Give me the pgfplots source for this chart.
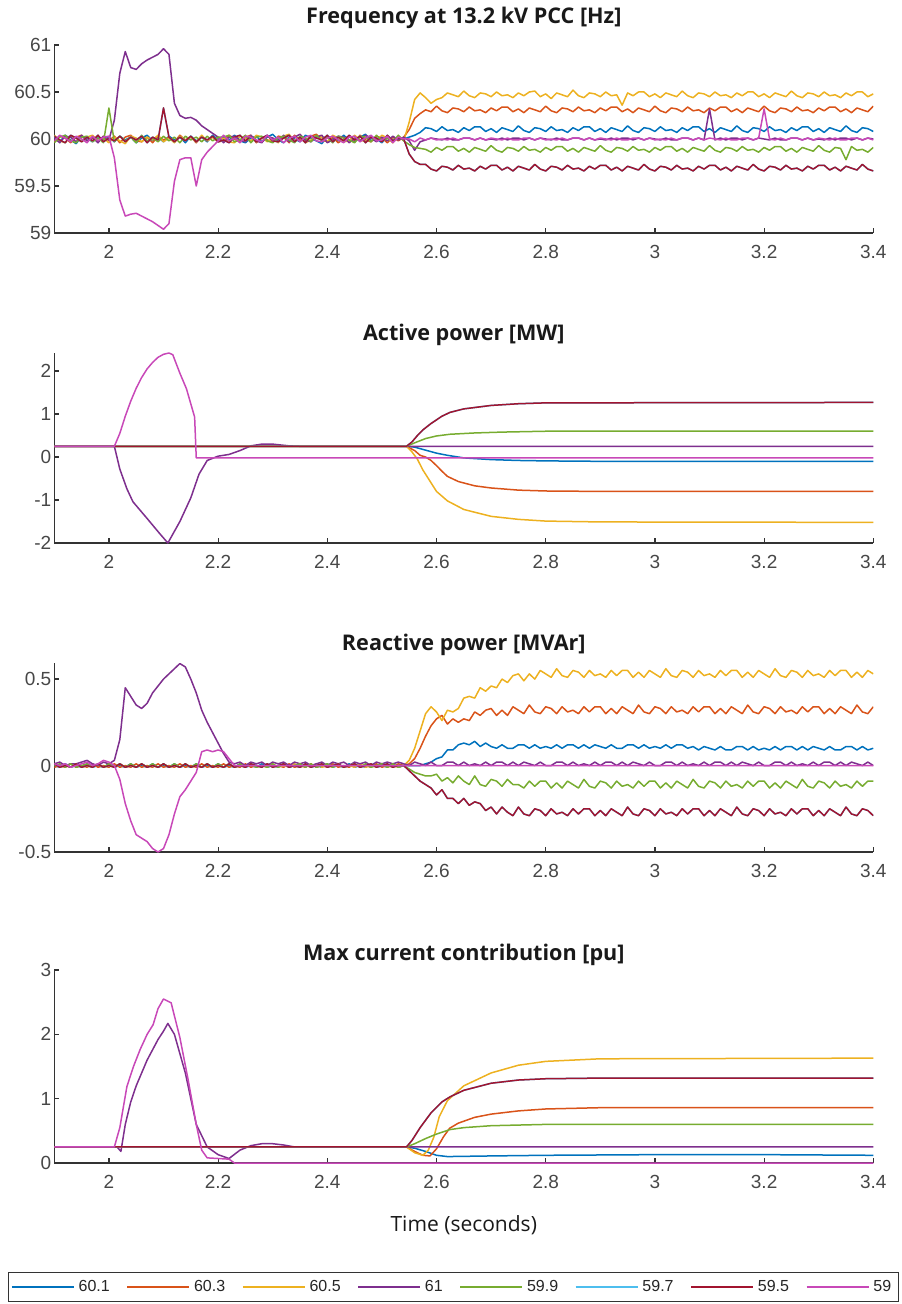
\documentclass[border=0pt]{standalone}
\usepackage{pgfplots}
\pgfplotsset{compat=1.18}
\usepackage{pgfplotstable}
\usepackage{fontspec}
\setmainfont{Liberation Sans}
\newfontfamily\titlefont{Open Sans}

\definecolor{c1}{rgb}{0,0.447,0.741}
\definecolor{c2}{rgb}{0.85,0.325,0.098}
\definecolor{c3}{rgb}{0.929,0.694,0.125}
\definecolor{c4}{rgb}{0.494,0.184,0.556}
\definecolor{c5}{rgb}{0.466,0.674,0.188}
\definecolor{c6}{rgb}{0.301,0.745,0.933}
\definecolor{c7}{rgb}{0.635,0.078,0.184}
\definecolor{c8}{HTML}{C848B8}

% Frequency [Hz]: t, 60.1, 60.3, 60.5, 61, 59.9, 59.5, 59
\pgfplotstableread[row sep=\\]{
t B O Y P G R M\\
1.90 60.02 59.97 60.04 60.01 59.96 60.03 59.98\\
1.91 59.97 60.03 59.98 59.96 60.02 59.99 60.04\\
1.92 60.04 60.01 59.96 60.03 60.04 59.96 60.01\\
1.93 59.99 59.96 60.03 60.02 59.98 60.04 59.97\\
1.94 59.95 60.02 60.01 59.97 59.96 60.01 60.03\\
1.95 60.03 60.04 59.97 60.04 60.02 59.97 60.00\\
1.96 60.01 59.98 60.02 59.98 60.03 60.02 59.96\\
1.97 59.97 60.01 60.04 60.02 59.97 59.98 60.03\\
1.98 60.03 59.97 59.98 59.96 60.01 60.04 59.98\\
1.99 59.98 60.03 60.01 60.03 59.96 59.97 60.02\\
2.00 60.02 59.98 59.96 59.99 60.33 60.01 60.03\\
2.01 59.97 60.03 60.02 60.20 59.97 59.98 59.80\\
2.02 60.03 59.96 59.98 60.70 60.03 60.03 59.35\\
2.03 59.99 60.02 59.95 60.93 59.98 59.97 59.18\\
2.04 60.02 60.04 60.03 60.76 60.02 60.02 59.20\\
2.05 59.96 59.98 60.01 60.74 59.96 59.99 59.21\\
2.06 60.01 59.97 59.97 60.80 60.04 60.03 59.18\\
2.07 60.04 60.02 60.02 60.84 59.98 59.96 59.15\\
2.08 59.98 59.96 59.99 60.87 60.01 60.02 59.12\\
2.09 60.02 60.03 60.04 60.90 59.97 59.99 59.08\\
2.10 59.97 59.99 59.97 60.96 60.03 60.33 59.04\\
2.11 60.03 60.02 60.01 60.90 59.98 60.02 59.10\\
2.12 59.99 59.97 59.96 60.38 60.02 59.97 59.55\\
2.13 60.02 60.04 60.03 60.25 59.96 60.02 59.78\\
2.14 59.96 59.99 59.99 60.22 60.03 59.98 59.80\\
2.15 60.03 60.02 60.02 60.23 59.99 60.03 59.80\\
2.16 59.98 59.96 59.97 60.20 60.02 59.97 59.50\\
2.17 60.02 60.03 60.04 60.14 59.97 60.02 59.78\\
2.18 59.97 59.98 59.98 60.10 60.03 59.99 59.86\\
2.19 60.04 60.02 60.02 60.06 59.98 60.03 59.92\\
2.20 59.99 59.97 59.98 60.02 60.02 59.97 59.98\\
2.21 60.03 59.98 60.01 59.96 60.02 59.99 60.04\\
2.22 59.99 60.04 59.97 60.02 60.04 59.96 59.98\\
2.23 60.04 60.00 59.96 60.03 59.97 60.02 60.01\\
2.24 59.98 59.97 60.03 59.99 59.99 60.04 59.96\\
2.25 59.96 60.02 60.01 59.97 60.04 59.98 60.03\\
2.26 60.01 60.04 59.98 60.04 59.96 60.03 60.02\\
2.27 60.03 59.96 60.04 59.98 60.02 59.97 59.99\\
2.28 59.97 60.01 60.02 59.96 60.03 60.01 59.97\\
2.29 60.02 59.99 59.97 60.03 59.98 60.04 60.04\\
2.30 60.05 59.97 60.01 60.01 59.96 59.98 59.99\\
2.31 59.99 60.03 59.96 59.98 60.01 59.97 60.02\\
2.32 59.96 60.02 60.03 60.04 60.03 60.01 59.96\\
2.33 60.02 59.96 60.05 59.97 59.99 60.04 60.01\\
2.34 60.00 60.04 59.98 60.02 59.96 59.97 60.03\\
2.35 59.97 59.99 60.02 60.05 60.03 60.02 59.97\\
2.36 60.04 59.98 59.96 59.99 60.01 59.96 60.02\\
2.37 60.01 60.03 59.99 59.97 59.97 60.03 60.04\\
2.38 59.98 60.05 60.03 60.02 60.04 60.01 59.98\\
2.39 59.95 59.99 60.02 60.04 59.98 59.99 59.97\\
2.40 60.03 59.97 59.97 59.96 60.02 60.04 60.01\\
2.41 60.01 60.02 60.04 59.99 59.96 59.97 60.03\\
2.42 59.98 59.96 60.01 60.03 60.03 60.02 59.99\\
2.43 60.04 60.00 59.97 60.02 60.01 59.98 59.96\\
2.44 59.99 60.03 59.98 59.96 59.99 60.04 60.02\\
2.45 59.97 59.98 60.04 60.01 59.96 59.99 60.03\\
2.46 60.02 60.04 59.99 59.98 60.03 60.03 59.97\\
2.47 60.05 59.99 59.97 60.04 60.02 59.96 60.01\\
2.48 59.98 59.97 60.03 60.01 59.97 60.02 60.04\\
2.49 60.00 60.03 59.98 59.97 60.04 60.01 59.98\\
2.50 59.96 60.01 60.04 60.02 59.98 59.97 59.99\\
2.51 60.03 59.96 60.01 59.98 60.01 60.04 60.03\\
2.52 59.99 60.02 59.96 60.03 59.97 59.98 59.96\\
2.53 60.02 59.98 60.03 59.99 60.04 60.01 60.02\\
2.54 60.00 60.02 59.98 60.02 59.98 60.00 60.00\\
2.55 60.02 60.10 60.18 59.98 59.94 59.84 60.00\\
2.56 60.04 60.22 60.42 59.88 59.91 59.76 59.97\\
2.57 60.07 60.27 60.49 59.97 59.90 59.73 60.01\\
2.58 60.12 60.31 60.44 59.99 59.89 59.73 59.99\\
2.59 60.11 60.29 60.38 60.01 59.86 59.68 60.01\\
2.60 60.08 60.35 60.42 60.00 59.91 59.66 59.99\\
2.61 60.13 60.30 60.44 59.99 59.88 59.71 60.00\\
2.62 60.09 60.28 60.49 60.01 59.92 59.70 59.99\\
2.63 60.10 60.33 60.47 59.99 59.92 59.67 60.01\\
2.64 60.07 60.32 60.45 59.99 59.87 59.72 59.99\\
2.65 60.12 60.29 60.51 60.01 59.90 59.68 60.01\\
2.66 60.09 60.34 60.46 60.01 59.86 59.69 60.01\\
2.67 60.13 60.30 60.44 59.99 59.91 59.66 59.99\\
2.68 60.13 60.31 60.49 60.01 59.89 59.71 60.01\\
2.69 60.08 60.28 60.48 59.99 59.87 59.68 59.99\\
2.70 60.11 60.33 60.45 60.00 59.93 59.72 60.01\\
2.71 60.07 60.30 60.50 59.99 59.88 59.72 60.00\\
2.72 60.12 60.34 60.46 60.01 59.86 59.67 59.99\\
2.73 60.10 60.34 60.47 59.99 59.91 59.70 60.01\\
2.74 60.08 60.29 60.44 60.01 59.90 59.66 59.99\\
2.75 60.14 60.32 60.49 60.01 59.87 59.71 59.99\\
2.76 60.09 60.28 60.46 59.99 59.92 59.69 60.01\\
2.77 60.07 60.33 60.50 60.01 59.88 59.67 60.01\\
2.78 60.12 60.31 60.51 59.99 59.89 59.73 59.99\\
2.79 60.11 60.29 60.45 60.01 59.86 59.68 60.01\\
2.80 60.08 60.35 60.48 60.00 59.91 59.66 59.99\\
2.81 60.13 60.30 60.43 59.99 59.88 59.71 60.00\\
2.82 60.09 60.28 60.49 60.01 59.92 59.70 59.99\\
2.83 60.10 60.33 60.47 59.99 59.92 59.67 60.01\\
2.84 60.07 60.32 60.45 59.99 59.87 59.72 59.99\\
2.85 60.12 60.29 60.52 60.01 59.90 59.68 60.01\\
2.86 60.09 60.34 60.46 60.01 59.86 59.69 60.01\\
2.87 60.13 60.30 60.44 59.99 59.91 59.66 59.99\\
2.88 60.13 60.31 60.49 60.01 59.89 59.71 60.01\\
2.89 60.08 60.28 60.48 59.99 59.87 59.68 59.99\\
2.90 60.11 60.33 60.45 60.00 59.93 59.72 60.01\\
2.91 60.07 60.30 60.50 59.99 59.88 59.72 60.00\\
2.92 60.12 60.34 60.46 60.01 59.86 59.67 59.99\\
2.93 60.10 60.34 60.47 59.99 59.91 59.70 60.01\\
2.94 60.08 60.29 60.36 60.01 59.90 59.66 59.99\\
2.95 60.14 60.32 60.49 60.01 59.87 59.71 59.99\\
2.96 60.09 60.28 60.46 59.99 59.92 59.69 60.01\\
2.97 60.07 60.33 60.50 60.01 59.88 59.67 60.01\\
2.98 60.12 60.31 60.50 59.99 59.89 59.73 59.99\\
2.99 60.11 60.29 60.45 60.01 59.86 59.68 60.01\\
3.00 60.08 60.35 60.48 60.00 59.91 59.66 59.99\\
3.01 60.13 60.30 60.44 59.99 59.88 59.71 60.00\\
3.02 60.09 60.28 60.49 60.01 59.92 59.70 59.99\\
3.03 60.10 60.33 60.47 59.99 59.92 59.67 60.01\\
3.04 60.07 60.32 60.45 59.99 59.87 59.72 59.99\\
3.05 60.12 60.29 60.51 60.01 59.90 59.68 60.01\\
3.06 60.09 60.34 60.46 60.01 59.86 59.69 60.01\\
3.07 60.13 60.30 60.44 59.99 59.91 59.66 59.99\\
3.08 60.13 60.31 60.49 60.01 59.89 59.71 60.01\\
3.09 60.08 60.28 60.48 59.99 59.87 59.68 59.99\\
3.10 60.11 60.33 60.45 60.32 59.93 59.72 60.01\\
3.11 60.07 60.30 60.50 59.99 59.88 59.72 60.00\\
3.12 60.12 60.34 60.46 60.01 59.86 59.67 59.99\\
3.13 60.10 60.34 60.47 59.99 59.91 59.70 60.01\\
3.14 60.08 60.29 60.44 60.01 59.90 59.66 59.99\\
3.15 60.14 60.32 60.49 60.01 59.87 59.71 59.99\\
3.16 60.09 60.28 60.46 59.99 59.92 59.69 60.01\\
3.17 60.07 60.33 60.50 60.01 59.88 59.67 60.01\\
3.18 60.12 60.31 60.50 59.99 59.89 59.73 59.99\\
3.19 60.11 60.29 60.45 60.01 59.86 59.68 60.01\\
3.20 60.08 60.35 60.48 60.00 59.91 59.66 60.32\\
3.21 60.13 60.30 60.44 59.99 59.88 59.71 60.00\\
3.22 60.09 60.28 60.49 60.01 59.92 59.70 59.99\\
3.23 60.10 60.33 60.47 59.99 59.92 59.67 60.01\\
3.24 60.07 60.32 60.45 59.99 59.87 59.72 59.99\\
3.25 60.12 60.29 60.51 60.01 59.90 59.68 60.01\\
3.26 60.09 60.34 60.46 60.01 59.86 59.69 60.01\\
3.27 60.13 60.30 60.44 59.99 59.91 59.66 59.99\\
3.28 60.13 60.31 60.49 60.01 59.89 59.71 60.01\\
3.29 60.08 60.28 60.48 59.99 59.87 59.68 59.99\\
3.30 60.11 60.33 60.45 60.00 59.93 59.72 60.01\\
3.31 60.07 60.30 60.50 59.99 59.88 59.72 60.00\\
3.32 60.12 60.34 60.46 60.01 59.86 59.67 59.99\\
3.33 60.10 60.34 60.47 59.99 59.91 59.70 60.01\\
3.34 60.08 60.29 60.44 60.01 59.90 59.66 59.99\\
3.35 60.14 60.32 60.49 60.01 59.78 59.71 59.99\\
3.36 60.09 60.28 60.46 59.99 59.92 59.69 60.01\\
3.37 60.07 60.33 60.50 60.01 59.88 59.67 60.01\\
3.38 60.12 60.31 60.50 59.99 59.89 59.73 59.99\\
3.39 60.11 60.29 60.45 60.01 59.86 59.68 60.01\\
3.40 60.08 60.35 60.48 60.00 59.91 59.66 59.99\\
}\freq

% Reactive power [MVAr]
\pgfplotstableread[row sep=\\]{
t B O Y P G R M\\
1.90 0.00 -0.01 0.01 0.01 0.00 0.01 0.01\\
1.91 -0.01 0.00 -0.01 0.02 0.01 -0.01 0.00\\
1.92 0.01 -0.01 0.00 0.00 -0.01 0.00 0.01\\
1.93 -0.01 0.01 -0.01 0.01 0.01 -0.01 -0.01\\
1.94 0.00 -0.01 0.01 0.01 -0.01 0.01 0.00\\
1.95 -0.01 0.00 -0.01 0.02 0.00 -0.01 0.01\\
1.96 0.01 -0.01 0.00 0.03 0.01 0.00 0.02\\
1.97 -0.01 0.01 -0.01 0.01 -0.01 -0.01 0.00\\
1.98 0.00 -0.01 0.01 0.00 0.01 0.01 0.01\\
1.99 -0.01 0.00 -0.01 0.02 -0.01 -0.01 0.03\\
2.00 0.01 -0.01 0.00 0.01 0.01 0.00 0.02\\
2.01 -0.01 0.01 -0.01 0.03 -0.01 -0.01 0.00\\
2.02 0.00 -0.01 0.01 0.15 0.01 0.01 -0.08\\
2.03 -0.01 0.00 -0.01 0.45 -0.01 -0.01 -0.22\\
2.04 0.01 -0.01 0.00 0.40 0.01 0.00 -0.32\\
2.05 -0.01 0.01 -0.01 0.35 -0.01 -0.01 -0.40\\
2.06 0.00 -0.01 0.01 0.33 0.01 0.01 -0.42\\
2.07 -0.01 0.00 -0.01 0.36 -0.01 -0.01 -0.44\\
2.08 0.01 -0.01 0.00 0.42 0.01 0.00 -0.48\\
2.09 -0.01 0.01 -0.01 0.46 -0.01 -0.01 -0.50\\
2.10 0.00 -0.01 0.01 0.50 0.01 0.01 -0.48\\
2.11 -0.01 0.00 -0.01 0.53 -0.01 -0.01 -0.40\\
2.12 0.01 -0.01 0.00 0.56 0.01 0.00 -0.28\\
2.13 -0.01 0.01 -0.01 0.59 -0.01 -0.01 -0.18\\
2.14 0.00 -0.01 0.01 0.57 0.01 0.01 -0.14\\
2.15 -0.01 0.00 -0.01 0.50 -0.01 -0.01 -0.09\\
2.16 0.01 -0.01 0.00 0.42 0.01 0.00 -0.04\\
2.17 -0.01 0.01 -0.01 0.32 -0.01 -0.01 0.08\\
2.18 0.00 -0.01 0.01 0.25 0.01 0.01 0.09\\
2.19 -0.01 0.00 -0.01 0.19 -0.01 -0.01 0.08\\
2.20 0.01 -0.01 0.00 0.13 0.01 0.00 0.09\\
2.21 -0.01 0.01 -0.01 0.07 -0.01 -0.01 0.08\\
2.22 0.00 -0.01 0.01 0.02 0.01 0.01 0.04\\
2.23 -0.01 0.00 -0.01 0.01 -0.01 -0.01 0.00\\
2.24 0.01 -0.01 0.00 0.02 0.01 0.00 0.00\\
2.25 -0.01 0.01 -0.01 0.00 -0.01 -0.01 0.00\\
2.26 0.00 -0.01 0.01 0.02 0.01 0.01 0.00\\
2.27 -0.01 0.00 -0.01 0.01 -0.01 0.00 0.00\\
2.28 0.01 -0.01 0.00 0.02 0.00 -0.01 0.00\\
2.29 -0.01 0.01 -0.01 0.00 -0.01 0.01 0.00\\
2.30 0.00 -0.01 0.01 0.02 0.01 -0.01 0.00\\
2.31 -0.01 0.00 -0.01 0.01 -0.01 0.00 0.00\\
2.32 0.01 -0.01 0.00 0.02 0.01 0.01 0.00\\
2.33 -0.01 0.01 -0.01 0.00 -0.01 -0.01 0.00\\
2.34 0.00 -0.01 0.01 0.02 0.00 0.00 0.00\\
2.35 -0.01 0.00 -0.01 0.01 0.01 -0.01 0.00\\
2.36 0.01 -0.01 0.00 0.02 -0.01 0.01 0.00\\
2.37 -0.01 0.01 -0.01 0.00 0.01 -0.01 0.00\\
2.38 0.00 -0.01 0.01 0.01 -0.01 0.00 0.00\\
2.39 -0.01 0.00 -0.01 0.02 0.00 0.01 0.00\\
2.40 0.01 -0.01 0.00 0.00 0.01 -0.01 0.00\\
2.41 -0.01 0.01 -0.01 0.02 -0.01 0.00 0.00\\
2.42 0.00 -0.01 0.01 0.01 0.01 0.01 0.00\\
2.43 -0.01 0.00 -0.01 0.02 -0.01 -0.01 0.00\\
2.44 0.01 -0.01 0.00 0.00 0.00 0.00 0.00\\
2.45 -0.01 0.01 -0.01 0.02 0.01 0.01 0.00\\
2.46 0.00 -0.01 0.01 0.01 -0.01 -0.01 0.00\\
2.47 -0.01 0.00 -0.01 0.02 0.01 0.00 0.00\\
2.48 0.01 -0.01 0.00 0.00 -0.01 0.01 0.00\\
2.49 -0.01 0.01 -0.01 0.02 0.00 -0.01 0.00\\
2.50 0.00 -0.01 0.01 0.01 0.01 0.00 0.00\\
2.51 -0.01 0.00 -0.01 0.02 -0.01 0.01 0.00\\
2.52 0.01 -0.01 0.00 0.01 0.01 -0.01 0.00\\
2.53 -0.01 0.01 -0.01 0.02 -0.01 0.00 0.00\\
2.54 0.00 0.00 0.00 0.01 0.00 0.00 0.00\\
2.55 0.00 0.01 0.03 0.00 -0.02 -0.03 0.00\\
2.56 0.00 0.04 0.10 0.02 -0.04 -0.06 0.00\\
2.57 0.00 0.10 0.20 0.01 -0.05 -0.09 0.00\\
2.58 0.01 0.17 0.30 0.00 -0.06 -0.11 0.00\\
2.59 0.02 0.23 0.34 0.02 -0.06 -0.13 0.00\\
2.60 0.04 0.27 0.31 0.00 -0.05 -0.17 0.00\\
2.61 0.05 0.29 0.26 0.00 -0.09 -0.14 0.00\\
2.62 0.09 0.24 0.32 0.02 -0.07 -0.19 0.00\\
2.63 0.09 0.27 0.31 0.02 -0.10 -0.19 0.00\\
2.64 0.12 0.25 0.33 0.00 -0.06 -0.22 0.00\\
2.65 0.13 0.27 0.39 0.02 -0.09 -0.19 0.00\\
2.66 0.12 0.26 0.40 0.00 -0.11 -0.23 0.00\\
2.67 0.14 0.31 0.39 0.01 -0.06 -0.21 0.00\\
2.68 0.11 0.29 0.45 0.00 -0.11 -0.22 0.00\\
2.69 0.13 0.32 0.43 0.02 -0.12 -0.26 0.00\\
2.70 0.11 0.33 0.46 0.00 -0.08 -0.24 0.00\\
2.71 0.10 0.29 0.45 0.02 -0.09 -0.28 0.00\\
2.72 0.12 0.32 0.50 0.02 -0.12 -0.24 0.00\\
2.73 0.10 0.29 0.48 0.00 -0.08 -0.27 0.00\\
2.74 0.10 0.34 0.52 0.02 -0.11 -0.29 0.00\\
2.75 0.12 0.32 0.53 0.00 -0.11 -0.24 0.00\\
2.76 0.12 0.30 0.49 0.02 -0.13 -0.28 0.00\\
2.77 0.10 0.35 0.53 0.01 -0.09 -0.29 0.00\\
2.78 0.12 0.31 0.50 0.00 -0.12 -0.25 0.00\\
2.79 0.10 0.30 0.55 0.02 -0.09 -0.26 0.00\\
2.80 0.11 0.34 0.53 0.00 -0.09 -0.29 0.00\\
2.81 0.10 0.33 0.51 0.00 -0.13 -0.25 0.00\\
2.82 0.12 0.30 0.56 0.02 -0.10 -0.28 0.00\\
2.83 0.10 0.34 0.52 0.02 -0.13 -0.27 0.00\\
2.84 0.12 0.31 0.51 0.00 -0.09 -0.29 0.00\\
2.85 0.12 0.32 0.55 0.02 -0.11 -0.25 0.00\\
2.86 0.10 0.30 0.54 0.00 -0.13 -0.28 0.00\\
2.87 0.12 0.34 0.51 0.01 -0.08 -0.25 0.00\\
2.88 0.10 0.31 0.55 0.00 -0.12 -0.25 0.00\\
2.89 0.12 0.34 0.52 0.02 -0.13 -0.29 0.00\\
2.90 0.11 0.34 0.53 0.00 -0.09 -0.26 0.00\\
2.91 0.10 0.30 0.51 0.02 -0.10 -0.29 0.00\\
2.92 0.12 0.33 0.55 0.02 -0.13 -0.25 0.00\\
2.93 0.10 0.30 0.52 0.00 -0.09 -0.27 0.00\\
2.94 0.10 0.34 0.55 0.02 -0.12 -0.29 0.00\\
2.95 0.12 0.32 0.55 0.00 -0.11 -0.24 0.00\\
2.96 0.12 0.30 0.51 0.02 -0.13 -0.28 0.00\\
2.97 0.10 0.35 0.54 0.01 -0.09 -0.29 0.00\\
2.98 0.12 0.31 0.51 0.00 -0.12 -0.25 0.00\\
2.99 0.10 0.30 0.55 0.02 -0.09 -0.26 0.00\\
3.00 0.11 0.34 0.53 0.00 -0.09 -0.29 0.00\\
3.01 0.10 0.33 0.51 0.00 -0.13 -0.25 0.00\\
3.02 0.12 0.30 0.56 0.02 -0.10 -0.28 0.00\\
3.03 0.10 0.34 0.52 0.02 -0.13 -0.27 0.00\\
3.04 0.12 0.31 0.51 0.00 -0.09 -0.29 0.00\\
3.05 0.12 0.32 0.55 0.02 -0.11 -0.25 0.00\\
3.06 0.10 0.30 0.54 0.00 -0.13 -0.28 0.00\\
3.07 0.11 0.34 0.51 0.01 -0.08 -0.25 0.00\\
3.08 0.09 0.31 0.55 0.00 -0.12 -0.25 0.00\\
3.09 0.11 0.34 0.52 0.02 -0.13 -0.29 0.00\\
3.10 0.10 0.34 0.53 0.00 -0.09 -0.26 0.00\\
3.11 0.09 0.30 0.51 0.02 -0.10 -0.29 0.00\\
3.12 0.11 0.33 0.55 0.02 -0.13 -0.25 0.00\\
3.13 0.09 0.30 0.52 0.00 -0.09 -0.27 0.00\\
3.14 0.09 0.34 0.55 0.02 -0.12 -0.29 0.00\\
3.15 0.11 0.32 0.55 0.00 -0.11 -0.24 0.00\\
3.16 0.11 0.30 0.51 0.02 -0.13 -0.28 0.00\\
3.17 0.09 0.35 0.54 0.01 -0.09 -0.29 0.00\\
3.18 0.11 0.31 0.51 0.00 -0.12 -0.25 0.00\\
3.19 0.09 0.30 0.55 0.02 -0.09 -0.26 0.00\\
3.20 0.10 0.34 0.53 0.00 -0.09 -0.29 0.00\\
3.21 0.09 0.33 0.51 0.00 -0.13 -0.25 0.00\\
3.22 0.11 0.30 0.56 0.02 -0.10 -0.28 0.00\\
3.23 0.09 0.34 0.52 0.02 -0.13 -0.27 0.00\\
3.24 0.11 0.31 0.51 0.00 -0.09 -0.29 0.00\\
3.25 0.11 0.32 0.55 0.02 -0.11 -0.25 0.00\\
3.26 0.09 0.30 0.54 0.00 -0.13 -0.28 0.00\\
3.27 0.11 0.34 0.51 0.01 -0.08 -0.25 0.00\\
3.28 0.09 0.31 0.55 0.00 -0.12 -0.25 0.00\\
3.29 0.11 0.34 0.52 0.02 -0.13 -0.29 0.00\\
3.30 0.10 0.34 0.53 0.00 -0.09 -0.26 0.00\\
3.31 0.09 0.30 0.51 0.02 -0.10 -0.29 0.00\\
3.32 0.11 0.33 0.55 0.02 -0.13 -0.25 0.00\\
3.33 0.09 0.30 0.52 0.00 -0.09 -0.27 0.00\\
3.34 0.09 0.34 0.55 0.02 -0.12 -0.29 0.00\\
3.35 0.11 0.32 0.55 0.00 -0.11 -0.24 0.00\\
3.36 0.11 0.30 0.51 0.02 -0.13 -0.28 0.00\\
3.37 0.09 0.35 0.54 0.01 -0.09 -0.29 0.00\\
3.38 0.11 0.31 0.51 0.00 -0.12 -0.25 0.00\\
3.39 0.09 0.30 0.55 0.02 -0.09 -0.26 0.00\\
3.40 0.10 0.34 0.53 0.00 -0.09 -0.29 0.00\\
}\reac

\pgfplotsset{
  every axis title/.style={at={(0.5,1)},anchor=center,
    font=\titlefont\bfseries\fontsize{10.8}{12}\selectfont, text=black!90},
  every axis x label/.style={at={(0.5,0)},anchor=center},
  base/.style={
    scale only axis, width=409.5pt,
    xmin=1.9, xmax=3.4,
    axis x line*=bottom, axis y line*=left,
    axis line style={-, black!80, line width=0.6pt},
    tick align=inside, major tick length=2.5pt,
    tick style={black!80, line width=0.6pt},
    xtick={2,2.2,2.4,2.6,2.8,3,3.2,3.4},
    xticklabels={2,2.2,2.4,2.6,2.8,3,3.2,3.4},
    ticklabel style={font=\fontsize{9.5}{11}\selectfont, text=black!72},
    xticklabel style={yshift=-2.5pt},
    yticklabel style={xshift=2pt},
    every axis plot/.append style={line width=0.75pt, line join=round},
  },
}

\begin{document}
\begin{tikzpicture}
\path[use as bounding box] (0pt,0pt) rectangle (450.5pt,-652pt);

% ---------- Frequency ----------
\begin{axis}[base, at={(27.15pt,-22.5pt)}, anchor=north west, height=94pt,
  ymin=59, ymax=61, ytick={59,59.5,60,60.5,61}, yticklabels={59,59.5,60,60.5,61},
  title={Frequency at 13.2 kV PCC [Hz]}, title style={yshift=13.5pt}]
\addplot[c1] table[x=t,y=B] {\freq};
\addplot[c2] table[x=t,y=O] {\freq};
\addplot[c3] table[x=t,y=Y] {\freq};
\addplot[c4] table[x=t,y=P] {\freq};
\addplot[c5] table[x=t,y=G] {\freq};
\addplot[c6] table[x=t,y=R] {\freq};
\addplot[c7] table[x=t,y=R] {\freq};
\addplot[c8] table[x=t,y=M] {\freq};
\end{axis}

% ---------- Active power ----------
\begin{axis}[base, at={(27.15pt,-176.5pt)}, anchor=north west, height=95pt,
  ymin=-2, ymax=2.42, ytick={-2,-1,0,1,2}, yticklabels={-2,-1,0,1,2},
  title={Active power [MW]}, title style={yshift=9pt}]
\addplot[c1] coordinates {(1.9,0.25)(2.545,0.25)(2.56,0.23)(2.58,0.16)(2.6,0.09)(2.62,0.04)(2.65,-0.02)(2.7,-0.06)(2.75,-0.08)(2.8,-0.09)(2.9,-0.1)(3.4,-0.1)};
\addplot[c2] coordinates {(1.9,0.25)(2.545,0.25)(2.56,0.15)(2.57,0.04)(2.58,0.0)(2.59,-0.08)(2.6,-0.2)(2.61,-0.33)(2.62,-0.45)(2.64,-0.57)(2.67,-0.67)(2.7,-0.72)(2.75,-0.77)(2.8,-0.79)(2.9,-0.8)(3.4,-0.8)};
\addplot[c3] coordinates {(1.9,0.25)(2.545,0.25)(2.555,0.12)(2.565,-0.05)(2.575,-0.3)(2.59,-0.6)(2.6,-0.8)(2.62,-1.02)(2.65,-1.22)(2.7,-1.38)(2.75,-1.45)(2.8,-1.49)(2.9,-1.51)(3.4,-1.52)};
\addplot[c4] coordinates {(1.9,0.25)(2.01,0.25)(2.02,-0.28)(2.033,-0.74)(2.044,-1.04)(2.07,-1.43)(2.093,-1.78)(2.108,-2.0)(2.13,-1.5)(2.15,-0.95)(2.165,-0.4)(2.18,-0.08)(2.2,0.02)(2.22,0.06)(2.24,0.15)(2.26,0.26)(2.28,0.3)(2.3,0.3)(2.33,0.26)(2.35,0.25)(3.4,0.25)};
\addplot[c5] coordinates {(1.9,0.25)(2.545,0.25)(2.56,0.33)(2.58,0.43)(2.6,0.49)(2.625,0.53)(2.67,0.56)(2.72,0.58)(2.8,0.6)(3.4,0.6)};
\addplot[c6] coordinates {(1.9,0.25)(2.545,0.25)(2.555,0.35)(2.565,0.5)(2.575,0.63)(2.59,0.78)(2.61,0.95)(2.625,1.04)(2.65,1.12)(2.7,1.2)(2.75,1.24)(2.8,1.26)(3.4,1.27)};
\addplot[c7] coordinates {(1.9,0.25)(2.545,0.25)(2.555,0.35)(2.565,0.5)(2.575,0.63)(2.59,0.78)(2.61,0.95)(2.625,1.04)(2.65,1.12)(2.7,1.2)(2.75,1.24)(2.8,1.26)(3.4,1.27)};
\addplot[c8] coordinates {(1.9,0.25)(2.01,0.25)(2.02,0.55)(2.03,0.95)(2.04,1.3)(2.05,1.6)(2.06,1.85)(2.07,2.05)(2.08,2.2)(2.09,2.32)(2.1,2.39)(2.11,2.42)(2.117,2.38)(2.13,1.95)(2.142,1.59)(2.157,0.93)(2.16,-0.02)(3.4,-0.02)};
\end{axis}

% ---------- Reactive power ----------
\begin{axis}[base, at={(27.15pt,-331.5pt)}, anchor=north west, height=94.5pt,
  ymin=-0.5, ymax=0.593, ytick={-0.5,0,0.5}, yticklabels={-0.5,0,0.5},
  title={Reactive power [MVAr]}, title style={yshift=9pt}]
\addplot[c1] table[x=t,y=B] {\reac};
\addplot[c2] table[x=t,y=O] {\reac};
\addplot[c3] table[x=t,y=Y] {\reac};
\addplot[c4] table[x=t,y=P] {\reac};
\addplot[c5] table[x=t,y=G] {\reac};
\addplot[c6] table[x=t,y=R] {\reac};
\addplot[c7] table[x=t,y=R] {\reac};
\addplot[c8] table[x=t,y=M] {\reac};
\end{axis}

% ---------- Max current ----------
\begin{axis}[base, at={(27.15pt,-485pt)}, anchor=north west, height=96.5pt,
  ymin=0, ymax=3, ytick={0,1,2,3}, yticklabels={0,1,2,3},
  title={Max current contribution [pu]}, title style={yshift=7.5pt},
  xlabel={Time (seconds)},
  xlabel style={yshift=-31pt, font=\titlefont\fontsize{10.5}{12}\selectfont, text=black!90},
  legend columns=8,
  legend style={at={(0.487,-0.642)}, anchor=center, draw=black!80, line width=0.5pt,
    font=\fontsize{8}{9.5}\selectfont, text=black!85, inner sep=1.5pt,
    /tikz/every even column/.append style={column sep=6.4pt}},
  legend image code/.code={\draw[#1, line width=0.75pt] (0pt,0pt) -- (31pt,0pt);},
  legend entries={60.1,60.3,60.5,61,59.9,59.7,59.5,59}]
\addplot[c1] coordinates {(1.9,0.25)(2.545,0.25)(2.56,0.23)(2.58,0.18)(2.6,0.12)(2.62,0.1)(2.7,0.11)(2.8,0.12)(3.0,0.13)(3.2,0.13)(3.4,0.12)};
\addplot[c2] coordinates {(1.9,0.25)(2.545,0.25)(2.56,0.18)(2.575,0.12)(2.588,0.11)(2.6,0.22)(2.613,0.41)(2.624,0.54)(2.64,0.62)(2.67,0.71)(2.7,0.76)(2.75,0.81)(2.8,0.84)(2.9,0.86)(3.4,0.86)};
\addplot[c3] coordinates {(1.9,0.25)(2.545,0.25)(2.56,0.16)(2.575,0.12)(2.585,0.2)(2.595,0.4)(2.605,0.72)(2.62,0.97)(2.65,1.2)(2.7,1.4)(2.75,1.52)(2.8,1.58)(2.9,1.62)(3.4,1.63)};
\addplot[c4] coordinates {(1.9,0.25)(2.015,0.25)(2.022,0.18)(2.03,0.6)(2.04,0.95)(2.05,1.2)(2.07,1.6)(2.09,1.92)(2.1,2.05)(2.108,2.17)(2.12,2.0)(2.14,1.4)(2.16,0.6)(2.18,0.25)(2.2,0.13)(2.22,0.07)(2.24,0.2)(2.26,0.27)(2.28,0.3)(2.3,0.3)(2.32,0.28)(2.34,0.25)(3.4,0.25)};
\addplot[c5] coordinates {(1.9,0.25)(2.545,0.25)(2.56,0.3)(2.58,0.38)(2.6,0.45)(2.625,0.52)(2.65,0.55)(2.7,0.58)(2.8,0.6)(3.4,0.6)};
\addplot[c6] coordinates {(1.9,0.25)(2.545,0.25)(2.555,0.35)(2.57,0.55)(2.59,0.78)(2.61,0.95)(2.625,1.03)(2.65,1.13)(2.7,1.24)(2.75,1.29)(2.8,1.31)(2.9,1.32)(3.4,1.32)};
\addplot[c7] coordinates {(1.9,0.25)(2.545,0.25)(2.555,0.35)(2.57,0.55)(2.59,0.78)(2.61,0.95)(2.625,1.03)(2.65,1.13)(2.7,1.24)(2.75,1.29)(2.8,1.31)(2.9,1.32)(3.4,1.32)};
\addplot[c8] coordinates {(1.9,0.25)(2.01,0.25)(2.02,0.55)(2.033,1.19)(2.045,1.5)(2.057,1.76)(2.07,2.0)(2.081,2.15)(2.09,2.4)(2.1,2.55)(2.114,2.49)(2.13,1.95)(2.145,1.3)(2.16,0.6)(2.17,0.2)(2.18,0.08)(2.22,0.06)(2.23,0.0)(3.4,0.0)};
\end{axis}
\end{tikzpicture}
\end{document}
